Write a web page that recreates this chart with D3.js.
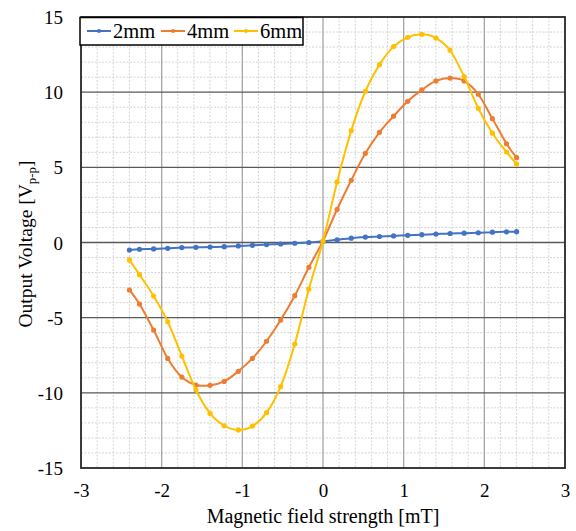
<!DOCTYPE html>
<html><head><meta charset="utf-8">
<script src="https://cdn.jsdelivr.net/npm/d3@7"></script>
<style>body{margin:0;background:#fff}svg{display:block}svg text{font-family:'Liberation Serif','Times New Roman',serif;fill:#000}</style>
</head><body>
<svg id="c" width="576" height="531"></svg>
<script>
const xValues = [-2.4, -2.275, -2.1, -1.925, -1.75, -1.575, -1.4, -1.225, -1.05, -0.875, -0.7, -0.525, -0.35, -0.175, 0,
  0.175, 0.35, 0.525, 0.7, 0.875, 1.05, 1.225, 1.4, 1.575, 1.75, 1.925, 2.1, 2.275, 2.4];
const v2mm = [-0.5, -0.45, -0.43, -0.39, -0.34, -0.32, -0.30, -0.28, -0.23, -0.19, -0.14, -0.10, -0.05, 0.0, 0.08,
  0.18, 0.29, 0.36, 0.40, 0.44, 0.48, 0.52, 0.56, 0.60, 0.62, 0.65, 0.69, 0.71, 0.72];
const v4mm = [-3.16, -4.09, -5.82, -7.71, -8.95, -9.48, -9.50, -9.24, -8.57, -7.71, -6.57, -5.16, -3.54, -1.65, 0.1,
  2.21, 4.14, 5.93, 7.33, 8.40, 9.39, 10.15, 10.75, 10.94, 10.75, 9.86, 8.24, 6.57, 5.64];
const v6mm = [-1.16, -2.14, -3.56, -5.27, -7.55, -9.81, -11.37, -12.19, -12.47, -12.21, -11.32, -9.59, -6.75, -3.09, 0.1,
  4.03, 7.44, 10.06, 11.83, 13.03, 13.65, 13.85, 13.6, 12.79, 11.03, 8.93, 7.27, 6.02, 5.22];
const seriesNames = ["2mm", "4mm", "6mm"];
const seriesColors = ["#4472C4", "#ED7D31", "#FFC000"];
const xTicks = [-3, -2, -1, 0, 1, 2, 3];
const yTicks = [-15, -10, -5, 0, 5, 10, 15];
const xTitle = "Magnetic field strength [mT]";

const svg = d3.select("#c");
const L = 81, R = 565, T = 17, B = 468;
const x = d3.scaleLinear().domain([-3, 3]).range([L, R]);
const y = d3.scaleLinear().domain([-15, 15]).range([B, T]);
const font = "'Liberation Serif','Times New Roman',serif";
const fmt = d => String(d); // hyphen-minus as in the reference

// minor grid
const xMinor = d3.range(-3, 3.0001, 0.2).map(v => +v.toFixed(2)).filter(v => Math.abs(v - Math.round(v)) > 1e-6);
const yMinor = d3.range(-15, 15.0001, 1).filter(v => v % 5 !== 0);
svg.append("g").selectAll("line").data(xMinor).join("line")
  .attr("x1", d => x(d)).attr("x2", d => x(d)).attr("y1", T).attr("y2", B)
  .attr("stroke", "#d4d4d4").attr("stroke-width", 1).attr("stroke-dasharray", "2,1.5");
svg.append("g").selectAll("line").data(yMinor).join("line")
  .attr("x1", L).attr("x2", R).attr("y1", d => y(d)).attr("y2", d => y(d))
  .attr("stroke", "#d4d4d4").attr("stroke-width", 1).attr("stroke-dasharray", "2,1.5");
// major grid
svg.append("g").selectAll("line").data(xTicks.slice(1, -1)).join("line")
  .attr("x1", d => x(d)).attr("x2", d => x(d)).attr("y1", T).attr("y2", B)
  .attr("stroke", "#a6a6a6").attr("stroke-width", 1.3);
svg.append("g").selectAll("line").data(yTicks.slice(1, -1)).join("line")
  .attr("x1", L).attr("x2", R).attr("y1", d => y(d)).attr("y2", d => y(d))
  .attr("stroke", "#595959").attr("stroke-width", 1.3);
// frame
svg.append("rect").attr("x", L).attr("y", T).attr("width", R - L).attr("height", B - T)
  .attr("fill", "none").attr("stroke", "#262626").attr("stroke-width", 1.8);

// axes labels
const xAxis = d3.axisBottom(x).tickValues(xTicks).tickSize(0).tickPadding(0).tickFormat(fmt);
const gx = svg.append("g").attr("transform", `translate(0,${B})`).call(xAxis)
  .attr("font-family", null).attr("font-size", null);
gx.select(".domain").remove();
gx.selectAll("text").style("font-family", font).style("font-size", "19px").attr("fill", "#000")
  .attr("dy", null).attr("y", 29);
const yAxis = d3.axisLeft(y).tickValues(yTicks).tickSize(0).tickPadding(0).tickFormat(fmt);
const gy = svg.append("g").attr("transform", `translate(63,0)`).call(yAxis)
  .attr("font-family", null).attr("font-size", null);
gy.select(".domain").remove();
gy.selectAll("text").style("font-family", font).style("font-size", "19px").attr("fill", "#000")
  .attr("dy", "0.35em");
svg.selectAll(".tick line").remove();

svg.append("text").attr("x", x(0)).attr("y", 523).attr("text-anchor", "middle")
  .style("font-size", "20px").text(xTitle);
const yt = svg.append("text").attr("transform", "translate(31.5,244) rotate(-90)")
  .attr("text-anchor", "middle").style("font-size", "19.5px");
yt.append("tspan").text("Output Voltage [V");
yt.append("tspan").style("font-size", "13px").attr("dy", 4).text("p-p");
yt.append("tspan").attr("dy", -4).text("]");

// series
const data = [v2mm, v4mm, v6mm];
const line = d3.line().x(d => x(d[0])).y(d => y(d[1])).curve(d3.curveCardinal.tension(0));
data.forEach((vals, i) => {
  const pts = xValues.map((xv, j) => [xv, vals[j]]);
  const g = svg.append("g");
  g.append("path").datum(pts).attr("d", line).attr("fill", "none")
    .attr("stroke", seriesColors[i]).attr("stroke-width", 2);
  g.selectAll("circle").data(pts).join("circle")
    .attr("cx", d => x(d[0])).attr("cy", d => y(d[1])).attr("r", 2.6)
    .attr("fill", seriesColors[i]);
});

// legend
const lg = svg.append("g");
lg.append("rect").attr("x", 80).attr("y", 17.5).attr("width", 223).attr("height", 27.5)
  .attr("fill", "#fff").attr("stroke", "#000").attr("stroke-width", 1.5);
const legX = [87, 161, 234];
seriesNames.forEach((n, i) => {
  lg.append("line").attr("x1", legX[i]).attr("x2", legX[i] + 24).attr("y1", 31).attr("y2", 31)
    .attr("stroke", seriesColors[i]).attr("stroke-width", 2);
  lg.append("circle").attr("cx", legX[i] + 12).attr("cy", 31).attr("r", 2).attr("fill", seriesColors[i]);
  lg.append("text").attr("x", legX[i] + 26).attr("y", 38).style("font-size", "20.5px").text(n);
});
</script>
</body></html>
